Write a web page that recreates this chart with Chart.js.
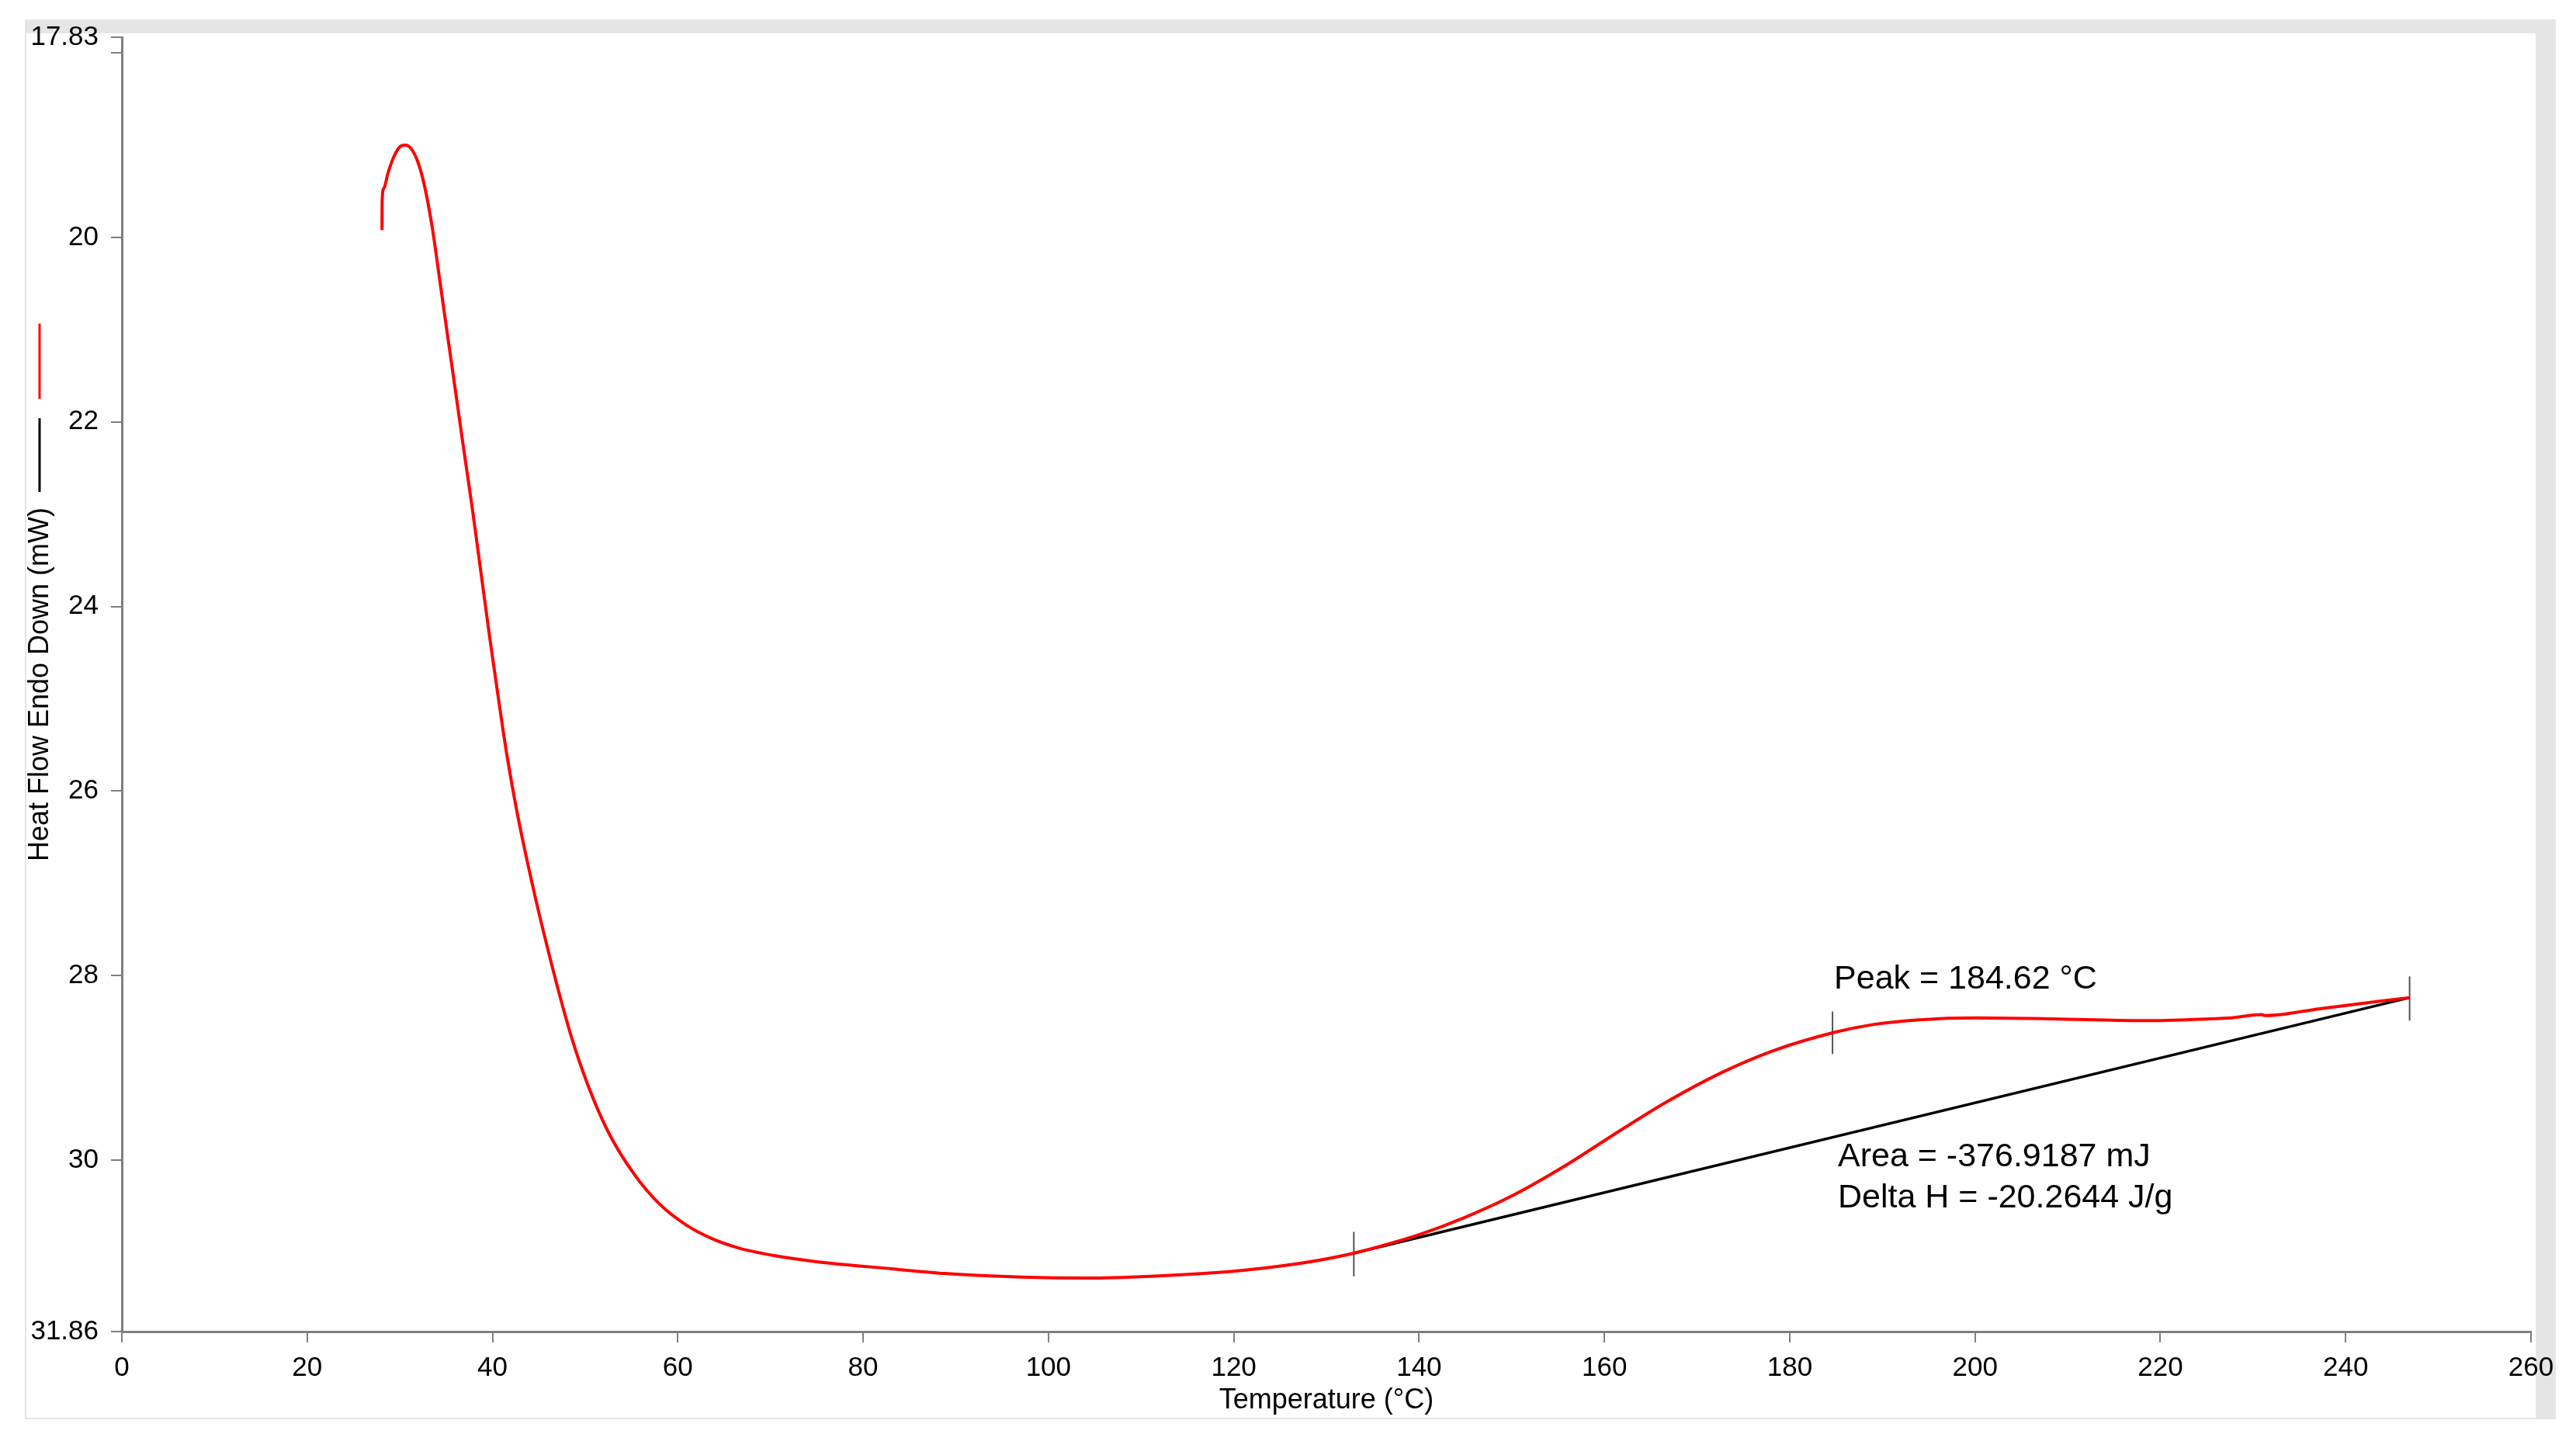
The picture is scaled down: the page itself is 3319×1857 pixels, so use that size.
<!DOCTYPE html>
<html>
<head>
<meta charset="utf-8">
<script src="https://cdn.jsdelivr.net/npm/chart.js@4.4.1/dist/chart.umd.min.js"></script>
<style>
  html, body { margin: 0; padding: 0; background: #fff; }
  #frame { position: absolute; left: 32px; top: 25px; width: 3261px; height: 1804px; background: #e5e5e5; }
  #inner { position: absolute; left: 34px; top: 43px; width: 3233px; height: 1784px; background: #fff; }
  #dscChart { position: absolute; left: 0; top: 0; }
</style>
</head>
<body>
<div id="frame"></div>
<div id="inner"></div>
<canvas id="dscChart" width="3319" height="1857"></canvas>
<script>
// DSC heat flow trace
var temps = [28.08, 28.09, 28.26, 28.73, 29.29, 29.99, 30.55, 31.24, 31.94, 32.64,
    33.48, 34.32, 35.16, 36.00, 36.83, 37.81, 38.78, 39.76, 40.73, 41.57,
    42.69, 44.50, 45.76, 47.16, 48.56, 50.23, 52.46, 55.26, 58.05, 60.84,
    63.63, 66.43, 70.62, 74.80, 83.18, 88.77, 97.14, 104.12, 111.10, 119.50,
    125.06, 129.00, 132.96, 136.00, 140.00, 145.00, 150.20, 155.80, 161.40, 166.90,
    172.50, 178.10, 184.70, 189.10, 194.00, 200.00, 208.40, 218.00, 222.80, 227.60,
    230.90, 231.40, 237.20, 246.90];
var heatFlow = [19.92, 19.61, 19.47, 19.30, 19.14, 19.02, 19.00, 19.04, 19.18, 19.43,
    19.88, 20.47, 21.07, 21.66, 22.25, 22.93, 23.65, 24.38, 25.06, 25.62,
    26.25, 27.10, 27.63, 28.18, 28.68, 29.17, 29.69, 30.15, 30.48, 30.70,
    30.85, 30.95, 31.04, 31.10, 31.18, 31.23, 31.27, 31.28, 31.26, 31.21,
    31.15, 31.09, 31.01, 30.93, 30.81, 30.62, 30.38, 30.06, 29.70, 29.36,
    29.06, 28.82, 28.62, 28.53, 28.48, 28.46, 28.47, 28.49, 28.48, 28.46,
    28.425, 28.435, 28.36, 28.24];

// integration baseline
var baseTemps = [132.96, 246.9];
var baseFlow = [31.01, 28.24];

// onset / peak / end markers
var markerTemps = [132.96, 184.62, 246.9];
var markerTop = [30.78, 28.39, 28.01];
var markerBottom = [31.26, 28.85, 28.49];

var xTicks = [0, 20, 40, 60, 80, 100, 120, 140, 160, 180, 200, 220, 240, 260];
var yTicks = [17.83, 18, 20, 22, 24, 26, 28, 30, 31.86];
var yTickLabels = ['17.83', '', '20', '22', '24', '26', '28', '30', '31.86'];

var annotationLabels = [
    { text: 'Peak = 184.62 \u00B0C', x: 184.79, y: 28.14 },
    { text: 'Area = -376.9187 mJ', x: 185.2, y: 30.07 },
    { text: 'Delta H = -20.2644 J/g', x: 185.2, y: 30.51 }
];

var yTitle = 'Heat Flow Endo Down (mW)';
var fontFamily = '"Liberation Sans", Arial, sans-serif';

function toPoints(xs, ys) {
    return xs.map(function(x, i) { return { x: x, y: ys[i] }; });
}

var datasets = [
    {
        label: 'Heat Flow',
        data: toPoints(temps, heatFlow),
        borderColor: '#ff0000',
        borderWidth: 4,
        showLine: true,
        pointRadius: 0,
        cubicInterpolationMode: 'monotone'
    },
    {
        label: 'Baseline',
        data: toPoints(baseTemps, baseFlow),
        borderColor: '#000000',
        borderWidth: 3.5,
        showLine: true,
        pointRadius: 0
    }
];
markerTemps.forEach(function(t, i) {
    datasets.push({
        label: 'marker' + i,
        data: [{ x: t, y: markerTop[i] }, { x: t, y: markerBottom[i] }],
        borderColor: '#555555',
        borderWidth: 2,
        showLine: true,
        pointRadius: 0
    });
});

var extrasPlugin = {
    id: 'extras',
    afterDraw: function(chart) {
        var ctx = chart.ctx;
        var xs = chart.scales.x, ys = chart.scales.y;
        ctx.save();
        ctx.fillStyle = '#000';
        ctx.font = '43px ' + fontFamily;
        ctx.textAlign = 'left';
        ctx.textBaseline = 'alphabetic';
        annotationLabels.forEach(function(a) {
            ctx.fillText(a.text, xs.getPixelForValue(a.x), ys.getPixelForValue(a.y));
        });

        // series keys drawn above the rotated y title
        ctx.font = '36px ' + fontFamily;
        var w = ctx.measureText(yTitle).width;
        var cy = (chart.chartArea.top + chart.chartArea.bottom) / 2;
        var titleEnd = cy - w / 2;
        ctx.lineWidth = 3;
        ctx.strokeStyle = '#000';
        ctx.beginPath();
        ctx.moveTo(51, titleEnd - 20);
        ctx.lineTo(51, titleEnd - 115);
        ctx.stroke();
        ctx.strokeStyle = '#ff0000';
        ctx.beginPath();
        ctx.moveTo(51, titleEnd - 140);
        ctx.lineTo(51, titleEnd - 237);
        ctx.stroke();
        ctx.restore();
    }
};

var chart = new Chart(document.getElementById('dscChart'), {
    type: 'scatter',
    data: { datasets: datasets },
    options: {
        responsive: false,
        animation: false,
        devicePixelRatio: 1,
        layout: { padding: { left: 0, top: 48, right: 58, bottom: 0 } },
        plugins: {
            legend: { display: false },
            tooltip: { enabled: false }
        },
        scales: {
            x: {
                type: 'linear',
                min: 0,
                max: 260,
                afterBuildTicks: function(s) { s.ticks = xTicks.map(function(v) { return { value: v }; }); },
                afterFit: function(s) { s.height = 141; },
                border: { display: true, color: '#7f7f7f', width: 3 },
                grid: { drawOnChartArea: false, drawTicks: true, tickLength: 14, color: '#7f7f7f', lineWidth: 2 },
                ticks: {
                    color: '#000',
                    padding: 12,
                    maxRotation: 0,
                    autoSkip: false,
                    font: { family: fontFamily, size: 35 }
                },
                title: {
                    display: true,
                    text: 'Temperature (\u00B0C)',
                    color: '#000',
                    padding: { top: 0, bottom: 30 },
                    font: { family: fontFamily, size: 36 }
                }
            },
            y: {
                type: 'linear',
                reverse: true,
                min: 17.83,
                max: 31.86,
                afterBuildTicks: function(s) { s.ticks = yTicks.map(function(v) { return { value: v }; }); },
                afterFit: function(s) { s.width = 157; },
                border: { display: true, color: '#7f7f7f', width: 3 },
                grid: { drawOnChartArea: false, drawTicks: true, tickLength: 14, color: '#7f7f7f', lineWidth: 2 },
                ticks: {
                    color: '#000',
                    padding: 16,
                    autoSkip: false,
                    font: { family: fontFamily, size: 35 },
                    callback: function(value, index) { return yTickLabels[index]; }
                },
                title: {
                    display: true,
                    text: yTitle,
                    color: '#000',
                    padding: { top: 30, bottom: 0 },
                    font: { family: fontFamily, size: 36 }
                }
            }
        }
    },
    plugins: [extrasPlugin]
});
</script>
</body>
</html>
